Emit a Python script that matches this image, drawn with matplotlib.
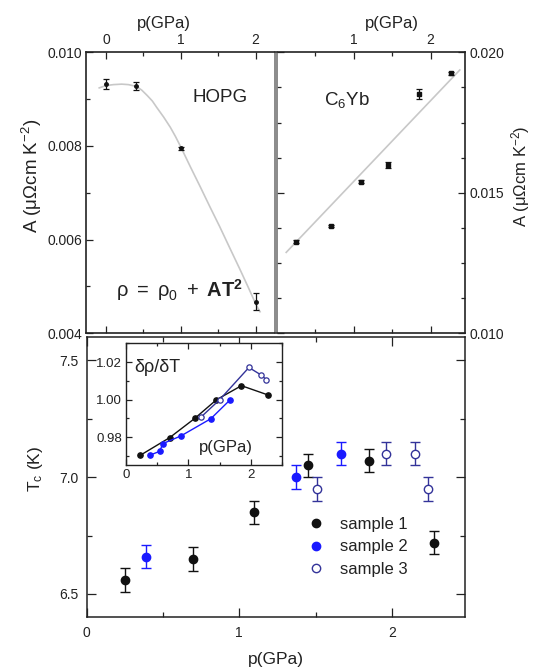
import matplotlib
matplotlib.use('Agg')
import matplotlib.pyplot as plt
from matplotlib.ticker import MultipleLocator, FixedLocator
from matplotlib.lines import Line2D

plt.rcParams['font.family'] = ['Liberation Sans', 'DejaVu Sans']
plt.rcParams['mathtext.fontset'] = 'custom'
plt.rcParams['mathtext.rm'] = 'Liberation Sans'
plt.rcParams['mathtext.it'] = 'Liberation Sans:italic'
plt.rcParams['mathtext.bf'] = 'Liberation Sans:bold'
plt.rcParams['text.color'] = '#222222'
plt.rcParams['axes.labelcolor'] = '#222222'
plt.rcParams['xtick.color'] = '#222222'
plt.rcParams['ytick.color'] = '#222222'

# ---------------- data ----------------
# HOPG (upper left)
hopg_p = [0.0, 0.40, 1.0, 2.0]
hopg_A = [0.00932, 0.00928, 0.00795, 0.00467]
hopg_err = [0.00010, 0.00009, 0.00003, 0.00018]
hopg_fit_p = [-0.09, 0.0, 0.10, 0.21, 0.30, 0.41, 0.48, 0.55, 0.62, 0.68, 0.77, 0.86,
              0.93, 1.0, 1.13, 1.26, 1.39, 1.52, 1.65, 1.79, 1.90, 2.01, 2.06]
hopg_fit_A = [0.00924, 0.00929, 0.00931, 0.00932, 0.00931, 0.00927, 0.00919, 0.00908,
              0.00896, 0.00882, 0.00862, 0.00840, 0.00820, 0.00798, 0.00755, 0.00713,
              0.00670, 0.00628, 0.00584, 0.00537, 0.00499, 0.00460, 0.00446]

# C6Yb (upper right)
c6_p = [0.25, 0.70, 1.10, 1.44, 1.85, 2.27]
c6_A = [0.01326, 0.01382, 0.01540, 0.01599, 0.01852, 0.01925]
c6_err = [0.00005, 0.00005, 0.00005, 0.00010, 0.00018, 0.00006]
c6_fit_p = [0.12, 2.38]
c6_fit_A = [0.01288, 0.01937]

# Tc vs p (main)
s1_p = [0.25, 0.70, 1.10, 1.45, 1.85, 2.28]
s1_T = [6.56, 6.65, 6.85, 7.05, 7.07, 6.72]
s2_p = [0.39, 1.37, 1.67]
s2_T = [6.66, 7.00, 7.10]
s3_p = [1.51, 1.96, 2.15, 2.24]
s3_T = [6.95, 7.10, 7.10, 6.95]
tc_err = 0.05

# inset d rho / dT
in1_p = [0.23, 0.70, 1.10, 1.45, 1.85, 2.28]
in1_v = [0.9704, 0.9798, 0.9900, 1.0000, 1.0075, 1.0025]
in2_p = [0.38, 0.54, 0.59, 0.88, 1.36, 1.67]
in2_v = [0.9704, 0.9725, 0.9766, 0.9807, 0.9899, 1.0000]
in3_p = [1.20, 1.50, 1.97, 2.16, 2.25]
in3_v = [0.9907, 1.0000, 1.0172, 1.0133, 1.0107]

labels = ['sample 1', 'sample 2', 'sample 3']

BLACK = '#111111'
BLUE = '#1a1aff'
NAVY = '#333399'
GRAY = '#c8c8c8'

W, H = 535, 671
fig = plt.figure(figsize=(W / 100, H / 100), dpi=100)


def rect(l, r, t, b):
    return [l / W, 1 - b / H, (r - l) / W, (b - t) / H]


def style(ax, lw=1.0):
    for s in ax.spines.values():
        s.set_linewidth(lw)
        s.set_color('#222222')
    ax.tick_params(which='both', direction='in', top=True, right=True, width=0.9)
    ax.tick_params(which='major', length=5)
    ax.tick_params(which='minor', length=3)


# ---------------- upper left: HOPG ----------------
axL = fig.add_axes(rect(86, 275, 52.3, 333.3))
style(axL, 1.2)
axL.spines['right'].set_color('#777777')
axL.errorbar(hopg_p, hopg_A, yerr=hopg_err, fmt='o', ms=2.5, color=BLACK,
             ecolor=BLACK, elinewidth=0.9, capsize=2.5, capthick=0.9, zorder=3)
axL.plot(hopg_fit_p, hopg_fit_A, color=GRAY, lw=1.2, zorder=2)
axL.set_xlim(-0.267, 2.26)
axL.set_ylim(0.004, 0.010)
axL.xaxis.set_major_locator(FixedLocator([0, 1, 2]))
axL.xaxis.set_minor_locator(FixedLocator([0.5, 1.5]))
axL.yaxis.set_major_locator(MultipleLocator(0.002))
axL.yaxis.set_minor_locator(MultipleLocator(0.001))
axL.yaxis.set_major_formatter(plt.FuncFormatter(lambda v, p: f'{v:.3f}'))
axL.tick_params(axis='x', labeltop=True, labelbottom=False, labelsize=10, pad=4)
axL.tick_params(axis='y', labelsize=10, pad=3)
axL.tick_params(axis='y', which='both', right=False)
axL.set_xlabel('p(GPa)', fontsize=12)
axL.xaxis.set_label_position('top')
axL.xaxis.set_label_coords(0.41, 1.085)
axL.set_ylabel('A (μΩcm K$^{-2}$)', fontsize=13.5)
axL.yaxis.set_label_coords(-0.22, 0.56)
axL.text(0.71, 0.84, 'HOPG', transform=axL.transAxes, fontsize=13.5,
         ha='center', va='center')
axL.text(0.495, 0.155, r'$\mathrm{\rho\ =\ \rho_0\ +}\ \mathbf{AT^2}$', transform=axL.transAxes,
         fontsize=14.5, ha='center', va='center')

# ---------------- upper right: C6Yb ----------------
axR = fig.add_axes(rect(277, 465, 52.3, 333.3))
style(axR, 1.2)
axR.spines['left'].set_color('#777777')
axR.errorbar(c6_p, c6_A, yerr=c6_err, fmt='s', ms=2.5, color=BLACK,
             ecolor=BLACK, elinewidth=0.9, capsize=2.5, capthick=0.9, zorder=3)
axR.plot(c6_fit_p, c6_fit_A, color=GRAY, lw=1.2, zorder=2)
axR.set_xlim(0.0, 2.448)
axR.set_ylim(0.010, 0.020)
axR.xaxis.set_major_locator(FixedLocator([1, 2]))
axR.xaxis.set_minor_locator(FixedLocator([0.5, 1.5]))
axR.yaxis.set_major_locator(MultipleLocator(0.005))
axR.yaxis.set_minor_locator(MultipleLocator(0.00125))
axR.yaxis.set_major_formatter(plt.FuncFormatter(lambda v, p: f'{v:.3f}'))
axR.tick_params(axis='x', labeltop=True, labelbottom=False, labelsize=10, pad=4)
axR.tick_params(axis='y', labelleft=False, labelright=True, labelsize=10, pad=3)
axR.set_xlabel('p(GPa)', fontsize=12)
axR.xaxis.set_label_position('top')
axR.xaxis.set_label_coords(0.61, 1.085)
axR.yaxis.set_label_position('right')
axR.set_ylabel('A (μΩcm K$^{-2}$)', fontsize=12, rotation=90)
axR.yaxis.set_label_coords(1.235, 0.56)
axR.text(0.37, 0.83, r'C$_6$Yb', transform=axR.transAxes, fontsize=13.5,
         ha='center', va='center')

# ---------------- main: Tc ----------------
ax = fig.add_axes(rect(86.7, 465, 337, 617.3))
style(ax, 1.1)
ax.errorbar(s1_p, s1_T, yerr=tc_err, fmt='o', ms=6, color=BLACK, mec=BLACK,
            ecolor=BLACK, elinewidth=1.0, capsize=3.5, capthick=1.0, zorder=3)
ax.errorbar(s2_p, s2_T, yerr=tc_err, fmt='o', ms=6, color=BLUE, mec=BLUE,
            ecolor=BLUE, elinewidth=1.0, capsize=3.5, capthick=1.0, zorder=3)
ax.errorbar(s3_p, s3_T, yerr=tc_err, fmt='o', ms=6, mfc='white', mec=NAVY, mew=1.0,
            ecolor=NAVY, elinewidth=1.0, capsize=3.5, capthick=1.0, zorder=3)
ax.set_xlim(0, 2.48)
ax.set_ylim(6.4, 7.6)
ax.xaxis.set_major_locator(MultipleLocator(1))
ax.xaxis.set_minor_locator(MultipleLocator(0.5))
ax.yaxis.set_major_locator(MultipleLocator(0.5))
ax.yaxis.set_minor_locator(MultipleLocator(0.25))
ax.yaxis.set_major_formatter(plt.FuncFormatter(lambda v, p: f'{v:.1f}'))
ax.tick_params(which='major', length=6.5)
ax.tick_params(which='minor', length=3.5)
ax.tick_params(axis='both', labelsize=10, pad=6)
ax.set_xlabel('p(GPa)', fontsize=12.5)
ax.xaxis.set_label_coords(0.5, -0.125)
ax.set_ylabel(r'T$_\mathrm{c}$ (K)', fontsize=12.5)
ax.yaxis.set_label_coords(-0.11, 0.53)

handles = [Line2D([], [], ls='none', marker='o', ms=6, color=BLACK),
           Line2D([], [], ls='none', marker='o', ms=6, color=BLUE),
           Line2D([], [], ls='none', marker='o', ms=6, mfc='white', mec=NAVY, mew=1.0)]
ax.legend(handles, labels, loc='upper left', bbox_to_anchor=(0.585, 0.358),
          frameon=False, fontsize=12, handlelength=1.0, handletextpad=0.9,
          labelspacing=0.45, borderpad=0, borderaxespad=0)

# ---------------- inset ----------------
ins = fig.add_axes(rect(126, 282, 343.3, 465))
style(ins, 1.0)
ins.plot(in1_p, in1_v, '-o', color=BLACK, ms=3.8, lw=1.0, zorder=3)
ins.plot(in2_p, in2_v, '-o', color=BLUE, ms=3.8, lw=1.0, zorder=3)
ins.plot(in3_p, in3_v, '-o', color=NAVY, mfc='white', mec=NAVY, ms=3.8, mew=0.9, lw=1.0, zorder=3)
ins.set_xlim(0, 2.5)
ins.set_ylim(0.9652, 1.0301)
ins.xaxis.set_major_locator(MultipleLocator(1))
ins.xaxis.set_minor_locator(MultipleLocator(0.5))
ins.yaxis.set_major_locator(MultipleLocator(0.02))
ins.yaxis.set_minor_locator(MultipleLocator(0.01))
ins.yaxis.set_major_formatter(plt.FuncFormatter(lambda v, p: f'{v:.2f}'))
ins.tick_params(which='major', length=4)
ins.tick_params(which='minor', length=2.5)
ins.tick_params(axis='both', labelsize=9.5, pad=3)
ins.text(0.05, 0.8, 'δρ/δT', transform=ins.transAxes, fontsize=13, ha='left', va='center')
ins.text(0.64, 0.14, 'p(GPa)', transform=ins.transAxes, fontsize=12, ha='center', va='center')

fig.savefig('out.png', dpi=100)
